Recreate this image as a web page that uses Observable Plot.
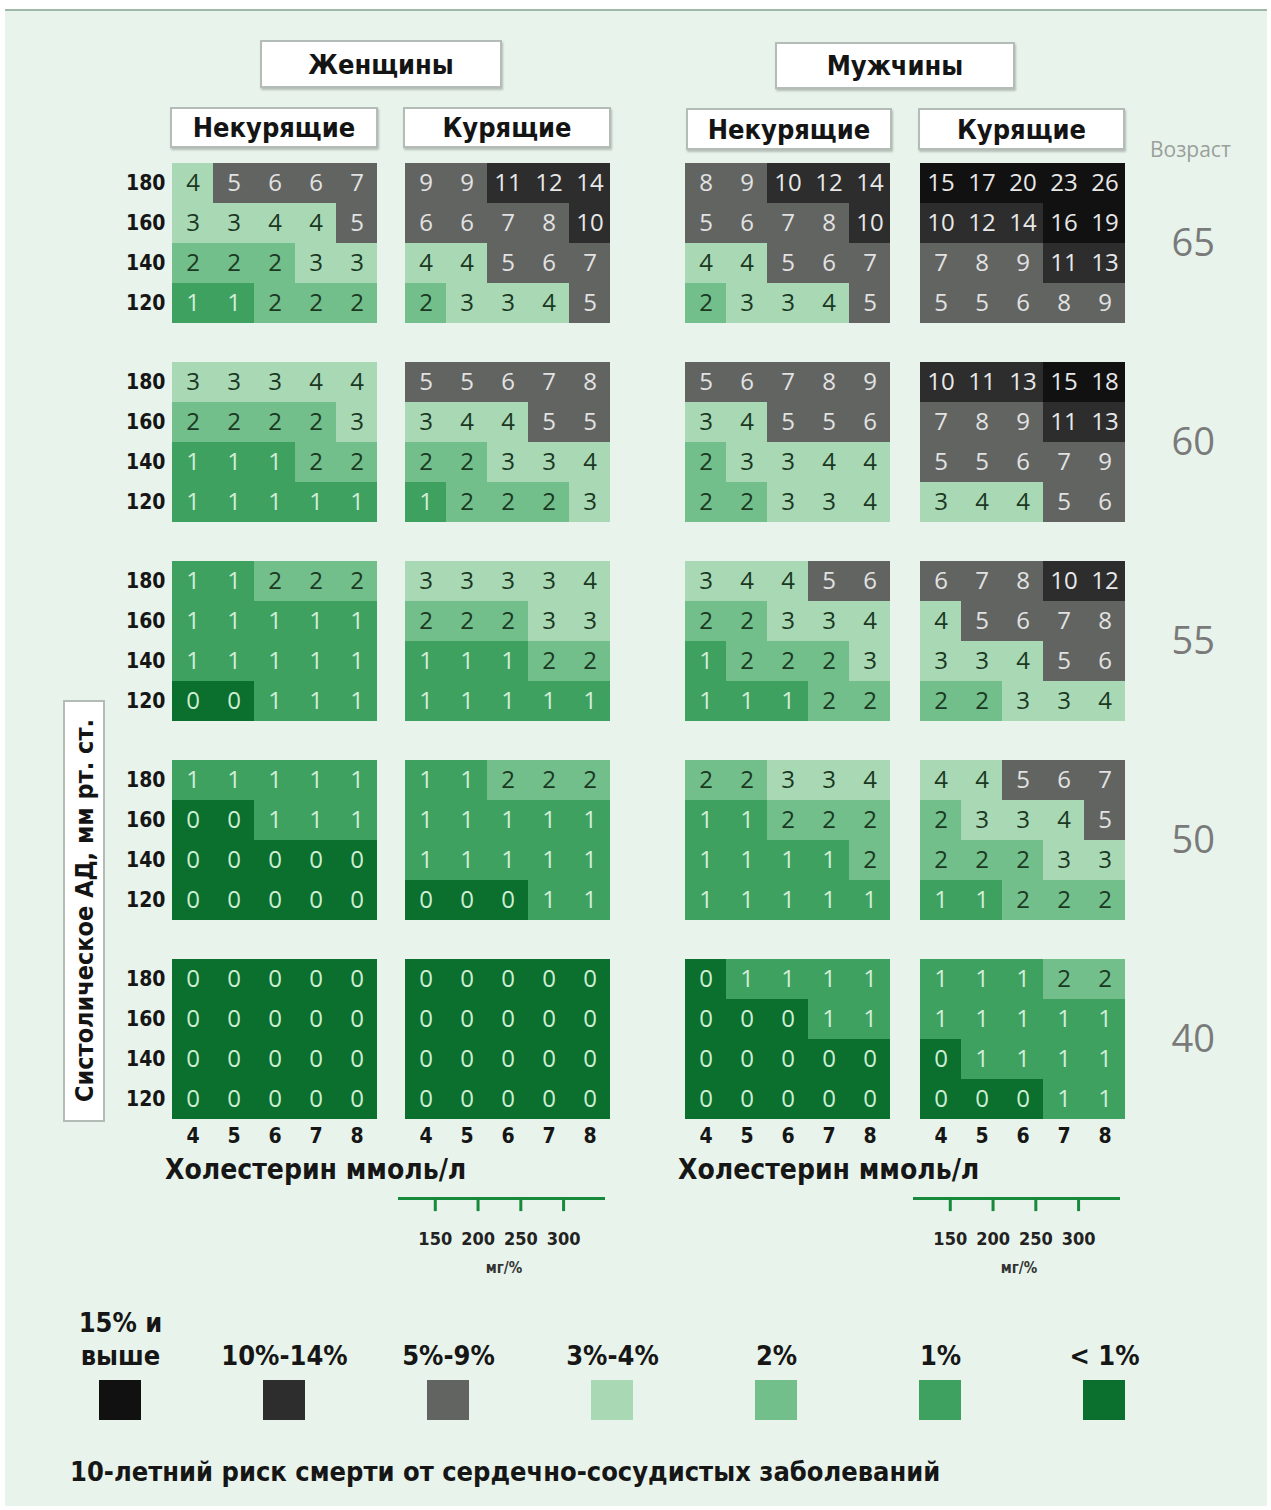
<!DOCTYPE html>
<html><head><meta charset="utf-8">
<script src="https://cdn.jsdelivr.net/npm/d3@7"></script>
<script src="https://cdn.jsdelivr.net/npm/@observablehq/plot@0.6"></script>
<style>
body{margin:0;background:#fff;}
#page{position:relative;width:1271px;height:1510px;background:#fff;overflow:hidden;font-family:"Liberation Sans Narrow","DejaVu Sans Condensed",sans-serif;}
#bg{position:absolute;left:5px;top:9px;right:4px;bottom:4px;background:#e8f4eb;border-top:2px solid #9fb8a8;}
.box{position:absolute;background:#fff;border:2px solid #b3bcb6;box-shadow:1px 2px 2px rgba(0,0,0,0.22);display:flex;align-items:center;justify-content:center;font-weight:bold;font-size:27px;color:#141414;box-sizing:border-box;}
.lbl{position:absolute;white-space:nowrap;}
.plot{position:absolute;}
</style></head><body><div id="page"><div id="bg"></div></div>
<script>
// ---------- data ----------
const ages = [65, 60, 55, 50, 40];
const sbpLevels = [180, 160, 140, 120];
const cholLevels = [4, 5, 6, 7, 8];
const mgTicks = [150, 200, 250, 300];
const mgDomain = [107, 349];

// each age block: rows SBP 180,160,140,120 ; columns cholesterol 4..8
const womenNonSmokers = [
  [[4,5,6,6,7],[3,3,4,4,5],[2,2,2,3,3],[1,1,2,2,2]],
  [[3,3,3,4,4],[2,2,2,2,3],[1,1,1,2,2],[1,1,1,1,1]],
  [[1,1,2,2,2],[1,1,1,1,1],[1,1,1,1,1],[0,0,1,1,1]],
  [[1,1,1,1,1],[0,0,1,1,1],[0,0,0,0,0],[0,0,0,0,0]],
  [[0,0,0,0,0],[0,0,0,0,0],[0,0,0,0,0],[0,0,0,0,0]]
];
const womenSmokers = [
  [[9,9,11,12,14],[6,6,7,8,10],[4,4,5,6,7],[2,3,3,4,5]],
  [[5,5,6,7,8],[3,4,4,5,5],[2,2,3,3,4],[1,2,2,2,3]],
  [[3,3,3,3,4],[2,2,2,3,3],[1,1,1,2,2],[1,1,1,1,1]],
  [[1,1,2,2,2],[1,1,1,1,1],[1,1,1,1,1],[0,0,0,1,1]],
  [[0,0,0,0,0],[0,0,0,0,0],[0,0,0,0,0],[0,0,0,0,0]]
];
const menNonSmokers = [
  [[8,9,10,12,14],[5,6,7,8,10],[4,4,5,6,7],[2,3,3,4,5]],
  [[5,6,7,8,9],[3,4,5,5,6],[2,3,3,4,4],[2,2,3,3,4]],
  [[3,4,4,5,6],[2,2,3,3,4],[1,2,2,2,3],[1,1,1,2,2]],
  [[2,2,3,3,4],[1,1,2,2,2],[1,1,1,1,2],[1,1,1,1,1]],
  [[0,1,1,1,1],[0,0,0,1,1],[0,0,0,0,0],[0,0,0,0,0]]
];
const menSmokers = [
  [[15,17,20,23,26],[10,12,14,16,19],[7,8,9,11,13],[5,5,6,8,9]],
  [[10,11,13,15,18],[7,8,9,11,13],[5,5,6,7,9],[3,4,4,5,6]],
  [[6,7,8,10,12],[4,5,6,7,8],[3,3,4,5,6],[2,2,3,3,4]],
  [[4,4,5,6,7],[2,3,3,4,5],[2,2,2,3,3],[1,1,2,2,2]],
  [[1,1,1,2,2],[1,1,1,1,1],[0,1,1,1,1],[0,0,0,1,1]]
];

const riskCategories = ["15% и\nвыше", "10%-14%", "5%-9%", "3%-4%", "2%", "1%", "< 1%"];
const riskColors = ["#111111", "#2d2d2d", "#626462", "#a9d8b4", "#72bf8b", "#3ea160", "#0b6f2e"];
const textColors = ["#e8e8e8", "#e8e8e8", "#e2e2e2", "#1b3823", "#1b3823", "#d4eed9", "#cdeed4"];

const sexLabels = ["Женщины", "Мужчины"];
const smokeLabels = ["Некурящие", "Курящие"];
const sbpTitle = "Систолическое АД, мм рт. ст.";
const cholTitle = "Холестерин ммоль/л";
const mgUnit = "мг/%";
const ageTitle = "Возраст";
const caption = "10-летний риск смерти от сердечно-сосудистых заболеваний";

// ---------- helpers ----------
function category(v) {
  if (v >= 15) return riskCategories[0];
  if (v >= 10) return riskCategories[1];
  if (v >= 5) return riskCategories[2];
  if (v >= 3) return riskCategories[3];
  if (v === 2) return riskCategories[4];
  if (v === 1) return riskCategories[5];
  return riskCategories[6];
}
function tidy(grid) {
  const out = [];
  grid.forEach((block, ai) => block.forEach((row, ri) => row.forEach((v, ci) =>
    out.push({age: ages[ai], sbp: sbpLevels[ri], chol: cholLevels[ci], risk: v, cat: category(v)}))));
  return out;
}
const page = document.getElementById("page");
function place(el, left, top) { el.classList.add("plot"); el.style.left = left + "px"; el.style.top = top + "px"; page.appendChild(el); }
function html(cls, text, css) { const d = document.createElement("div"); d.className = cls; d.textContent = text; Object.assign(d.style, css); page.appendChild(d); return d; }

const numFont = "'Open Sans', 'DejaVu Sans', sans-serif";
const condFont = "'Liberation Sans Narrow', 'DejaVu Sans Condensed', sans-serif";
const PW = 206;

function panel(grid, left, showY, showAge) {
  const data = tidy(grid);
  const ml = showY ? 62 : 0, mr = showAge ? 120 : 0;
  const textMarks = riskCategories.map((c, i) => Plot.text(data.filter(d => d.cat === c), {
    x: "chol", y: "sbp", fy: "age", text: d => String(d.risk), fill: textColors[i],
    fontSize: 24, fontFamily: numFont
  }));
  const chart = Plot.plot({
    width: ml + PW + mr, height: 963 + 40,
    marginLeft: ml, marginRight: mr, marginTop: 0, marginBottom: 40,
    style: {background: "transparent", overflow: "visible", fontFamily: condFont, color: "#161616"},
    x: {type: "band", domain: cholLevels, padding: 0, axis: null},
    y: {type: "band", domain: sbpLevels, padding: 0, axis: null},
    fy: {domain: ages, paddingInner: 0.185, paddingOuter: 0, axis: null},
    color: {type: "ordinal", domain: riskCategories, range: riskColors},
    marks: [
      Plot.cell(data, {x: "chol", y: "sbp", fy: "age", fill: "cat"}),
      ...textMarks,
      Plot.axisX({anchor: "bottom", tickSize: 0, tickPadding: 8, fontSize: 21, fontWeight: "bold", label: null}),
      showY ? Plot.axisY({anchor: "left", tickSize: 0, tickPadding: 6, fontSize: 21, fontWeight: "bold", label: null}) : null,
      showAge ? Plot.axisFy({anchor: "right", tickSize: 0, tickPadding: 46, fontSize: 38, fontFamily: numFont, fill: "#7a7a7a", label: null}) : null
    ]
  });
  place(chart, left - ml, 160);
}

panel(womenNonSmokers, 171, true, false);
panel(womenSmokers, 404, false, false);
panel(menNonSmokers, 684, false, false);
panel(menSmokers, 919, false, true);

// mg/% secondary axis
function mgAxis(left) {
  const chart = Plot.plot({
    width: 207, height: 90, marginLeft: 0, marginRight: 0, marginTop: 8, marginBottom: 0,
    style: {background: "transparent", overflow: "visible", fontFamily: condFont, color: "#161616"},
    x: {domain: mgDomain, axis: null},
    y: {domain: [0, 1], axis: null},
    marks: [
      Plot.ruleY([1], {stroke: "#17893a", strokeWidth: 3}),
      Plot.ruleX(mgTicks, {x: d => d, y1: 1, y2: 0.84, stroke: "#17893a", strokeWidth: 3}),
      Plot.text(mgTicks, {x: d => d, y: 0.5, text: d => String(d), fontSize: 18, fontWeight: "bold", fill: "#222"}),
      Plot.text([mgUnit], {frameAnchor: "bottom", dy: -8, dx: 2, fontSize: 15, fontWeight: "bold", fill: "#333"})
    ]
  });
  place(chart, left, 1190);
}
mgAxis(398);
mgAxis(913);

// legend
const legend = Plot.plot({
  width: 1271, height: 130, marginLeft: 37, marginRight: 84, marginTop: 80, marginBottom: 10,
  style: {background: "transparent", overflow: "visible", fontFamily: condFont, color: "#161616"},
  x: {type: "band", domain: riskCategories, padding: 0, axis: null},
  color: {type: "ordinal", domain: riskCategories, range: riskColors},
  marks: [
    Plot.cell(riskCategories, {x: d => d, fill: d => d, insetLeft: 61, insetRight: 61}),
    Plot.text(riskCategories, {x: d => d, text: d => d, frameAnchor: "top", lineAnchor: "bottom", dy: -16,
      fontSize: 27, fontWeight: "bold", fill: "#161616", lineHeight: 1.2})
  ]
});
place(legend, 0, 1300);

// headers
html("box", sexLabels[0], {left: "260px", top: "40px", width: "242px", height: "48px"});
html("box", sexLabels[1], {left: "775px", top: "42px", width: "240px", height: "47px"});
html("box", smokeLabels[0], {left: "170px", top: "107px", width: "208px", height: "41px"});
html("box", smokeLabels[1], {left: "403px", top: "107px", width: "208px", height: "41px"});
html("box", smokeLabels[0], {left: "686px", top: "108px", width: "206px", height: "42px"});
html("box", smokeLabels[1], {left: "918px", top: "108px", width: "207px", height: "42px"});
html("lbl", ageTitle, {left: "1150px", top: "135px", fontSize: "21px", color: "#9a9f9b", fontFamily: numFont});
html("box", sbpTitle, {left: "63px", top: "700px", width: "42px", height: "422px", fontSize: "25px", writingMode: "vertical-rl", transform: "rotate(180deg)", boxShadow: "none"});
html("lbl", cholTitle, {left: "165px", top: "1153px", fontSize: "28px", fontWeight: "bold", color: "#161616"});
html("lbl", cholTitle, {left: "678px", top: "1153px", fontSize: "28px", fontWeight: "bold", color: "#161616"});
html("lbl", caption, {left: "70px", top: "1456px", fontSize: "27px", fontWeight: "bold", color: "#161616"});
</script></body></html>
